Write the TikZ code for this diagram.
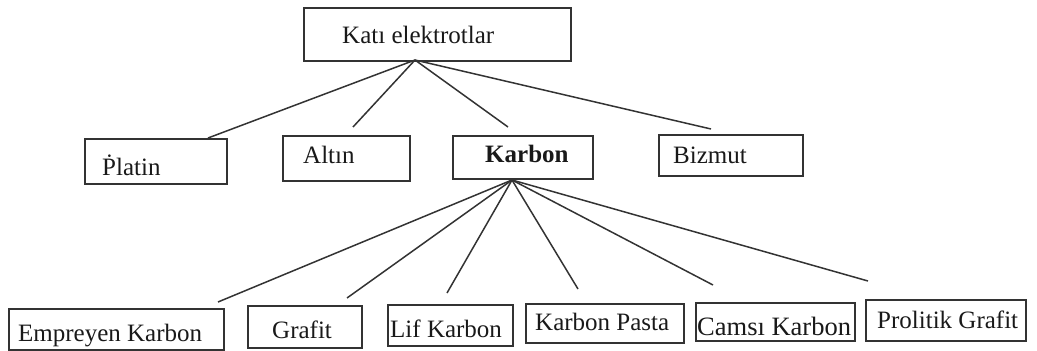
\documentclass[tikz,border=0pt]{standalone}
\usepackage{fontspec}
\setmainfont{Liberation Serif}
\begin{document}
\begin{tikzpicture}[x=1pt,y=-1pt,
  box/.style={draw=black!80, line width=1.8pt, inner sep=0pt, anchor=north west},
  lbl/.style={anchor=base west, inner sep=0pt, text=black!90, font=\fontsize{25}{30}\selectfont},
  conn/.style={draw=black!80, line width=1.5pt}]
\useasboundingbox (0,0) rectangle (1037,351);

% boxes
\node[box, minimum width=267pt, minimum height=53pt] (kati) at (303,7) {};
\node[box, minimum width=142pt, minimum height=45pt] (platin) at (84,138) {};
\node[box, minimum width=127pt, minimum height=45pt] (altin) at (282,135) {};
\node[box, minimum width=140pt, minimum height=43pt] (karbon) at (452,135) {};
\node[box, minimum width=144pt, minimum height=41pt] (bizmut) at (658,134) {};
\node[box, minimum width=215pt, minimum height=41pt] (empreyen) at (8,308) {};
\node[box, minimum width=114pt, minimum height=42pt] (grafit) at (247,305) {};
\node[box, minimum width=125pt, minimum height=41pt] (lif) at (387,304) {};
\node[box, minimum width=158pt, minimum height=39pt] (pasta) at (525,303) {};
\node[box, minimum width=159pt, minimum height=38pt] (camsi) at (695,302) {};
\node[box, minimum width=160pt, minimum height=41pt] (prolitik) at (865,299) {};

% labels
\node[lbl] (katiT) at (342,43) {Katı elektrotlar};
\node[lbl] (platinT) at (102,175) {\.{P}latin};
\node[lbl] (altinT) at (303,163) {Altın};
\node[lbl, font=\fontsize{25}{30}\selectfont\bfseries] (karbonT) at (485,162) {Karbon};
\node[lbl] (bizmutT) at (673,163) {Bizmut};
\node[lbl] (empreyenT) at (18,341) {Empreyen Karbon};
\node[lbl] (grafitT) at (272,338) {Grafit};
\node[lbl] (lifT) at (390,337) {Lif Karbon};
\node[lbl] (pastaT) at (535,330) {Karbon Pasta};
\node[lbl, font=\fontsize{26.5}{30}\selectfont] (camsiT) at (697,335) {Camsı Karbon};
\node[lbl] (prolitikT) at (877,328) {Prolitik Grafit};

% connector ends
\coordinate (katiA) at (415,60);
\coordinate (karbonA) at (512,180);
\coordinate (platinE) at (208,138);
\coordinate (altinE) at (353,127);
\coordinate (karbonE) at (508,127);
\coordinate (bizmutE) at (711,129);
\coordinate (empreyenE) at (218,302);
\coordinate (grafitE) at (347,298);
\coordinate (lifE) at (447,293);
\coordinate (pastaE) at (578,289);
\coordinate (camsiE) at (713,285);
\coordinate (prolitikE) at (868,281);

% connectors
\draw[conn] (katiA) -- (platinE);
\draw[conn] (katiA) -- (altinE);
\draw[conn] (katiA) -- (karbonE);
\draw[conn] (katiA) -- (bizmutE);
\draw[conn] (karbonA) -- (empreyenE);
\draw[conn] (karbonA) -- (grafitE);
\draw[conn] (karbonA) -- (lifE);
\draw[conn] (karbonA) -- (pastaE);
\draw[conn] (karbonA) -- (camsiE);
\draw[conn] (karbonA) -- (prolitikE);
\end{tikzpicture}
\end{document}
